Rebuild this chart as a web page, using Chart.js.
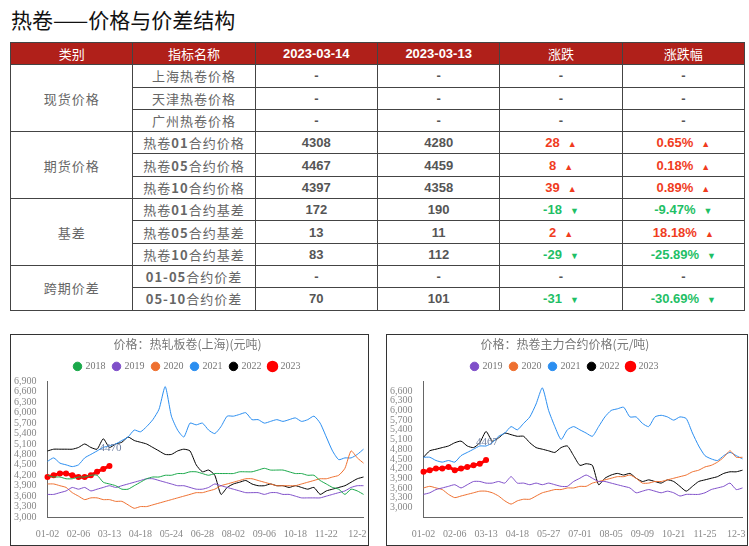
<!DOCTYPE html>
<html>
<head>
<meta charset="utf8">
<script src="https://cdn.jsdelivr.net/npm/chart.js@4"></script>
<style>
body{margin:0;background:#fff;font-family:"Liberation Sans","Noto Sans CJK SC",sans-serif;}
#title{position:absolute;left:11px;top:4px;font-size:21px;color:#111;font-family:"Noto Sans CJK SC";}
table{position:absolute;left:10px;top:42px;border-collapse:collapse;width:735px;table-layout:fixed;}
td,th{border:1.5px solid #444;height:21.3px;padding:0;text-align:center;font-size:13px;color:#555;}
th{background:#b0201a;color:#fff;font-weight:normal;font-family:"Noto Sans CJK SC";}
th.b{font-weight:bold;font-family:"Liberation Sans";}
td.cat,td.nm{font-family:"Noto Sans CJK SC";color:#666;letter-spacing:1px;}
td.v{font-weight:bold;color:#555;}
td.up{color:#f03c1e}td.dn{color:#1fbf66}
.ar{font-size:9px;margin-left:8px}
.box{position:absolute;border:1.5px solid #333;}
</style>
</head>
<body>
<div id="title">热卷——价格与价差结构</div>
<table id="tbl"></table>
<div class="box" style="left:10px;top:334px;width:357px;height:210px"><canvas id="c1"></canvas></div>
<div class="box" style="left:386px;top:334px;width:360px;height:210px"><canvas id="c2"></canvas></div>
<script>
// 表格数据
var groups = [["现货价格",3],["期货价格",3],["基差",3],["跨期价差",2]];
var names = ["上海热卷价格","天津热卷价格","广州热卷价格","热卷<b>01</b>合约价格","热卷<b>05</b>合约价格","热卷<b>10</b>合约价格","热卷<b>01</b>合约基差","热卷<b>05</b>合约基差","热卷<b>10</b>合约基差","<b>01-05</b>合约价差","<b>05-10</b>合约价差"];
var d0314 = ["-","-","-","4308","4467","4397","172","13","83","-","70"];
var d0313 = ["-","-","-","4280","4459","4358","190","11","112","-","101"];
var chg = ["-","-","-","28","8","39","-18","2","-29","-","-31"];
var pct = ["-","-","-","0.65%","0.18%","0.89%","-9.47%","18.18%","-25.89%","-","-30.69%"];

var h = '<tr><th>类别</th><th>指标名称</th><th class="b">2023-03-14</th><th class="b">2023-03-13</th><th>涨跌</th><th>涨跌幅</th></tr>';
var i = 0;
groups.forEach(function(g){
  for (var k = 0; k < g[1]; k++) {
    h += '<tr>';
    if (k == 0) h += '<td class="cat" rowspan="'+g[1]+'">'+g[0]+'</td>';
    var c = chg[i] == "-" ? "" : (chg[i][0] == "-" ? "dn" : "up");
    var arr = c == "up" ? '<span class="ar">▲</span>' : (c == "dn" ? '<span class="ar">▼</span>' : '');
    h += '<td class="nm">'+names[i]+'</td><td class="v">'+d0314[i]+'</td><td class="v">'+d0313[i]+'</td>';
    h += '<td class="v '+c+'">'+chg[i]+arr+'</td><td class="v '+c+'">'+pct[i]+arr+'</td></tr>';
    i++;
  }
});
document.getElementById("tbl").innerHTML = h;

// 图表数据(按周)
var ticks1 = ["01-02","02-06","03-13","04-18","05-24","06-28","08-02","09-06","10-18","11-22","12-2"];
var ticks2 = ["01-02","02-06","03-13","04-18","05-27","07-01","08-05","09-09","10-21","11-25","12-3"];
var sh2018 = [4200,4150,4150,4100,4100,4150,4150,4200,4200,4000,3950,3900,3800,3800,3900,4000,4100,4150,4150,4200,4200,4250,4250,4300,4300,4250,4200,4250,4250,4250,4250,4300,4300,4300,4350,4400,4350,4350,4350,4300,4250,4250,4200,4200,4050,3950,3850,3800,3650,3800,3750,3650];
var sh2019 = [3650,3650,3700,3750,3850,3800,3850,3750,3800,3850,3900,3850,3900,3950,4000,4050,4100,4100,4050,4000,3950,3900,3900,3850,3800,3800,3850,3950,3900,3850,3800,3750,3700,3700,3700,3650,3700,3700,3650,3650,3600,3550,3550,3550,3550,3600,3650,3700,3750,3850,3900,3900];
var sh2020 = [3950,3950,3900,3850,3700,3600,3500,3550,3550,3500,3500,3450,3450,3350,3250,3300,3300,3350,3400,3450,3500,3550,3600,3650,3700,3700,3750,3800,3900,3950,4000,4050,4100,4100,4050,4000,3950,3900,3900,3900,3900,3950,4000,4050,4100,4100,4150,4200,4400,4900,4700,4550];
var sh2021 = [4600,4700,4550,4500,4450,4500,4700,4800,4900,5000,5050,5100,5200,5300,5500,5450,5600,5800,6100,6750,5900,5500,5300,5700,5650,5700,5500,5400,5600,5900,5900,5950,6000,5800,5800,5700,5750,5800,5750,5800,5850,5750,5800,5900,5700,5300,4900,4650,4700,4700,4800,4950];
var sh2022 = [4900,4950,4950,4950,4950,5000,5100,5000,4950,5250,5000,5100,5150,5300,5200,5150,5100,5000,4900,4800,4800,4900,4950,4900,4500,4300,4350,4200,3650,3850,3950,4000,4050,3950,3900,3900,3950,3900,3900,3850,3900,3850,3800,3850,3650,3750,3800,3850,3900,4000,4100,4150];
var sh2023 = [4150,4200,4250,4250,4200,4150,4150,4200,4300,4380,4470];
var fu2019 = [3400,3450,3550,3600,3650,3700,3600,3700,3800,3800,3750,3750,3800,3750,3950,3750,3750,3700,3750,3700,3750,3700,3650,3650,3800,3900,4000,3900,3800,3800,3750,3700,3650,3600,3450,3500,3550,3500,3450,3500,3450,3350,3400,3400,3400,3450,3550,3600,3650,3750,3550,3600];
var fu2020 = [3600,3650,3600,3550,3400,3300,3350,3400,3450,3500,3500,3450,3350,3200,3100,3200,3250,3250,3350,3450,3500,3550,3550,3600,3600,3650,3650,3750,3800,3850,3900,3950,3950,4000,3900,3750,3750,3800,3800,3850,3900,3950,4000,4100,4150,4250,4300,4400,4550,4750,4550,4550];
var fu2021 = [4550,4550,4450,4400,4450,4400,4600,4700,4800,4900,4900,5000,5200,5300,5500,5400,5600,5800,6200,6700,6000,5500,5100,5400,5500,5400,5300,5200,5500,5800,6000,6050,6100,5800,5800,5600,5500,5800,5850,5800,5700,5800,5750,5300,4900,4600,4500,4450,4600,4700,4600,4500];
var fu2022 = [4550,4750,4800,4850,4900,5000,5050,4900,4850,5000,5350,5050,5150,5300,5250,5200,5200,5000,4850,4800,4750,4700,4850,4900,4600,4300,4350,4300,3700,3900,4000,4050,4000,4050,3900,3800,3850,3800,3750,3850,3800,3650,3500,3650,3800,3850,3900,3950,4050,4100,4100,4150];
var fu2023 = [4100,4150,4200,4200,4250,4150,4200,4250,4300,4350,4467];

function lbls(t){ var a=[]; for (var w=0; w<52; w++) a.push(w%5==0 ? t[w/5] : ""); return a; }
function ds(name, data, color, w){
  return {label:name, data:data, borderColor:color, backgroundColor:color, borderWidth:w||1,
    pointRadius:w?1.5:0, pointHoverRadius:0, tension:0.2};
}
var endLabel = {
  id:'endLabel',
  afterDatasetsDraw: function(ch, a, opt){
    var n = ch.data.datasets.length-1;
    var p = ch.getDatasetMeta(n).data[opt.idx];
    var c = ch.ctx; c.save(); c.font = "11px 'Liberation Serif'"; c.fillStyle = "#6f7fa0";
    c.fillText(ch.data.datasets[n].data[opt.idx], p.x-10, p.y-18); c.restore();
  }
};
function make(id, title, tk, sets, ymin, ymax){
  new Chart(document.getElementById(id), {
    type:'line',
    data:{labels:lbls(tk), datasets:sets},
    plugins:[endLabel],
    options:{
      responsive:false, animation:false, maintainAspectRatio:false,
      layout:{padding:{right:4,bottom:2}},
      plugins:{
        endLabel:{idx:10},
        title:{display:true, text:title, color:'#777', font:{size:12, weight:'normal', family:'Noto Sans CJK SC'}, padding:{top:2,bottom:2}},
        legend:{labels:{usePointStyle:true, pointStyle:'circle', boxWidth:6, boxHeight:6, color:'#777', font:{size:10, family:'Liberation Serif'}, padding:8}},
        tooltip:{enabled:false}
      },
      scales:{
        x:{grid:{display:false}, border:{color:'#666'}, ticks:{autoSkip:false, maxRotation:0, color:'#888', font:{size:10, family:'Liberation Serif'}}},
        y:{min:ymin, max:ymax, grid:{display:false}, border:{color:'#666'}, ticks:{autoSkip:false, stepSize:300, color:'#888', font:{size:10, family:'Liberation Serif'},
          callback:function(v){ return (v<3000||v>6900-(ymin==2700?300:0)) ? '' : v.toLocaleString('en-US'); }}}
      }
    }
  });
}
var cv1 = document.getElementById('c1'); cv1.width = 357; cv1.height = 210;
var cv2 = document.getElementById('c2'); cv2.width = 360; cv2.height = 210;
make('c1', '价格：热轧板卷(上海)(元吨)', ticks1, [
  ds('2018', sh2018, '#1aa84a'), ds('2019', sh2019, '#7f4fc9'), ds('2020', sh2020, '#ee7030'),
  ds('2021', sh2021, '#2b8ef0'), ds('2022', sh2022, '#000000'), ds('2023', sh2023, '#ff0000', 3)], 3000, 6900);
make('c2', '价格：热卷主力合约价格(元/吨)', ticks2, [
  ds('2019', fu2019, '#7f4fc9'), ds('2020', fu2020, '#ee7030'),
  ds('2021', fu2021, '#2b8ef0'), ds('2022', fu2022, '#000000'), ds('2023', fu2023, '#ff0000', 3)], 2700, 6900);
</script>
</body>
</html>
